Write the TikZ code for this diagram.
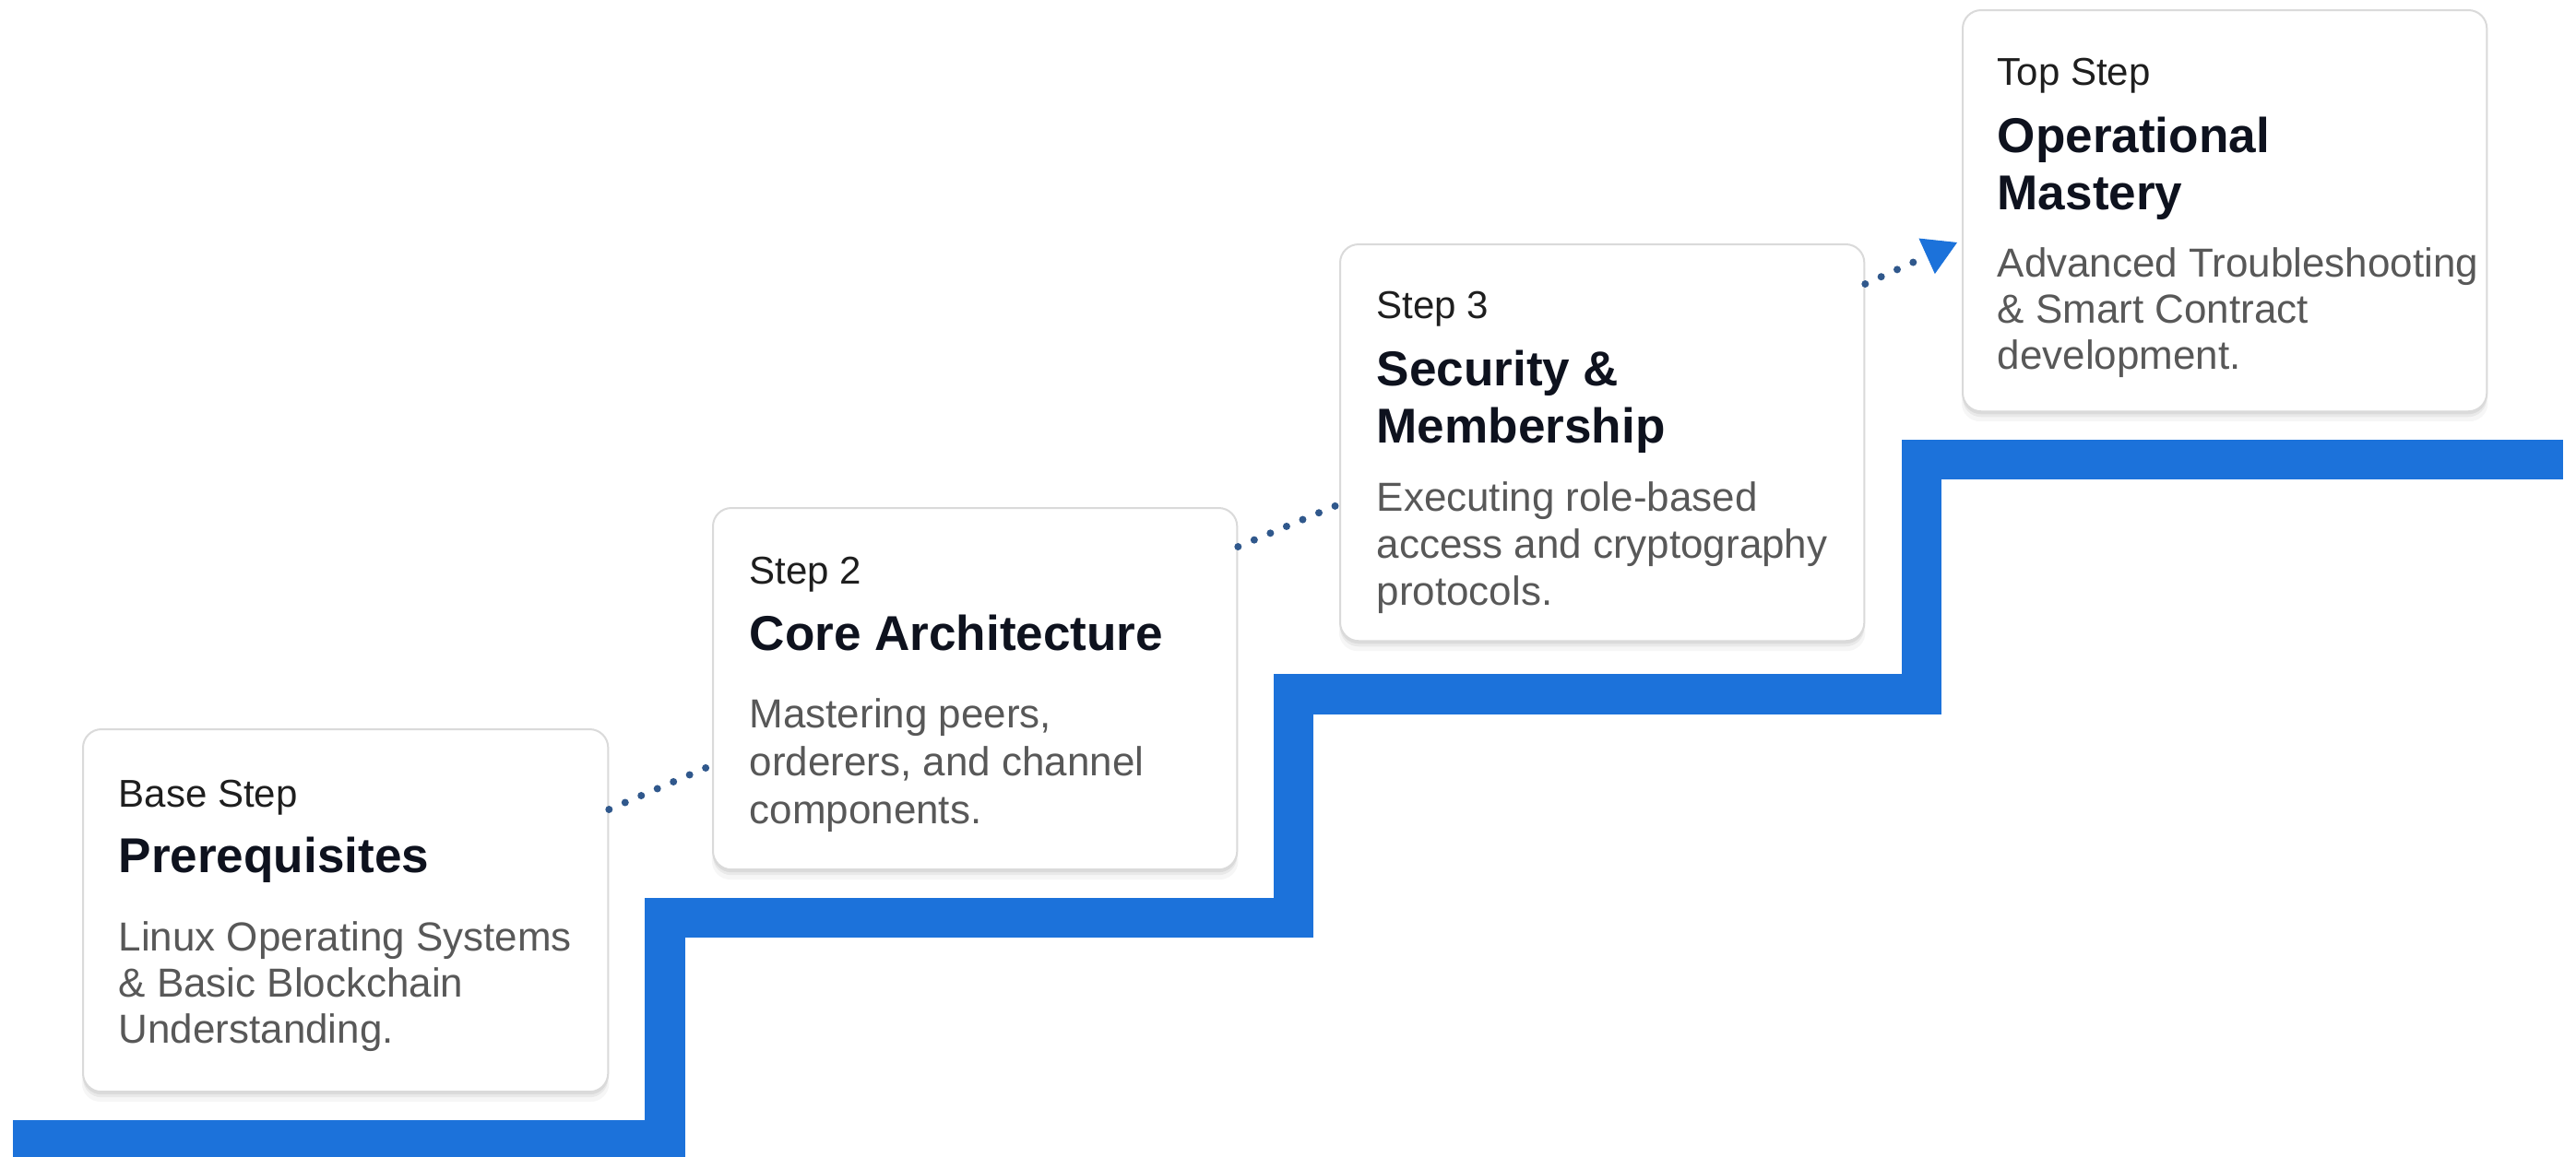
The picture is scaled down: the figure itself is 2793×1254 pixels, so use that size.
\documentclass[tikz,border=0pt]{standalone}
\usepackage{fontspec}
\setmainfont{Liberation Sans}
\usetikzlibrary{shadows,arrows.meta,calc}
\definecolor{stairblue}{RGB}{28,114,218}
\definecolor{dotblue}{RGB}{48,88,140}
\definecolor{boxline}{RGB}{218,218,218}
\definecolor{labelc}{RGB}{30,30,30}
\definecolor{titlec}{RGB}{14,18,30}
\definecolor{descc}{RGB}{88,88,88}
\tikzset{
 stepbox/.style={draw=boxline, line width=0.02cm, fill=white, rounded corners=0.2cm, inner sep=0pt, anchor=north west,
   general shadow={shadow yshift=-0.10cm, shadow scale=1.004, fill=black, opacity=0.035},
   general shadow={shadow yshift=-0.06cm, fill=black, opacity=0.05},
   general shadow={shadow yshift=-0.03cm, fill=black, opacity=0.06}},
 lbl/.style={anchor=base west, inner sep=0pt, text=labelc, font=\fontsize{11.95}{14}\selectfont},
 ttl/.style={anchor=base west, inner sep=0pt, text=titlec, font=\fontsize{15.1}{18}\selectfont\bfseries},
 dsc/.style={anchor=base west, inner sep=0pt, text=descc, font=\fontsize{12.5}{15}\selectfont},
 link/.style={draw=dotblue, line width=0.08cm, line cap=round, dash pattern=on 0pt off 0.19cm},
 stair/.style={draw=stairblue, line width=0.43cm, line join=miter}
}
\begin{document}
\begin{tikzpicture}[x=0.01cm,y=-0.01cm]
\useasboundingbox (0,0) rectangle (2793,1254);
\fill[white] (0,0) rectangle (2793,1254);
% staircase
\draw[stair] (14,1236.5) -- (721,1236.5) -- (721,995.5) -- (1402.5,995.5) -- (1402.5,753) -- (2083,753) -- (2083,498.5) -- (2779,498.5);
% boxes
\node[stepbox, minimum width=5.69cm, minimum height=3.93cm] (b1) at (89,790) {};
\node[stepbox, minimum width=5.68cm, minimum height=3.92cm] (b2) at (772,550) {};
\node[stepbox, minimum width=5.68cm, minimum height=4.30cm] (b3) at (1452,264) {};
\node[stepbox, minimum width=5.68cm, minimum height=4.35cm] (b4) at (2127,10) {};
% box 1
\node[lbl] (b1l) at (128,875) {Base Step};
\node[ttl] (b1t) at (128,946) {Prerequisites};
\node[dsc] (b1d1) at (128,1031) {Linux Operating Systems};
\node[dsc] (b1d2) at (128,1081) {\& Basic Blockchain};
\node[dsc] (b1d3) at (128,1131) {Understanding.};
% box 2
\node[lbl] (b2l) at (812,633) {Step 2};
\node[ttl] (b2t) at (812,705) {Core Architecture};
\node[dsc] (b2d1) at (812,789) {Mastering peers,};
\node[dsc] (b2d2) at (812,841) {orderers, and channel};
\node[dsc] (b2d3) at (812,893) {components.};
% box 3
\node[lbl] (b3l) at (1492,345) {Step 3};
\node[ttl] (b3t1) at (1492,418) {Security \&};
\node[ttl] (b3t2) at (1492,480) {Membership};
\node[dsc] (b3d1) at (1492,554) {Executing role-based};
\node[dsc] (b3d2) at (1492,605) {access and cryptography};
\node[dsc] (b3d3) at (1492,656) {protocols.};
% box 4
\node[lbl] (b4l) at (2165,92) {Top Step};
\node[ttl] (b4t1) at (2165,165) {Operational};
\node[ttl] (b4t2) at (2165,227) {Mastery};
\node[dsc] (b4d1) at (2165,300) {Advanced Troubleshooting};
\node[dsc] (b4d2) at (2165,350) {\& Smart Contract};
\node[dsc] (b4d3) at (2165,400) {development.};
% connectors
\coordinate (c1s) at ($(b1.north east)+(0,88)$);
\coordinate (c1e) at ($(b2.north west)+(0,280)$);
\coordinate (c2s) at ($(b2.north east)+(0,43)$);
\coordinate (c2e) at ($(b3.north west)+(0,283)$);
\coordinate (c3s) at ($(b3.north east)+(0,44)$);
\coordinate (c3e) at ($(b4.north west)+(-5,253)$);
\draw[link] (c1s) -- (c1e);
\draw[link] (c2s) -- (c2e);
\draw[link, -{Triangle[length=0.36cm, width=0.42cm, color=stairblue, fill=stairblue, line width=0.01cm]}] (c3s) -- (c3e);
\end{tikzpicture}
\end{document}
